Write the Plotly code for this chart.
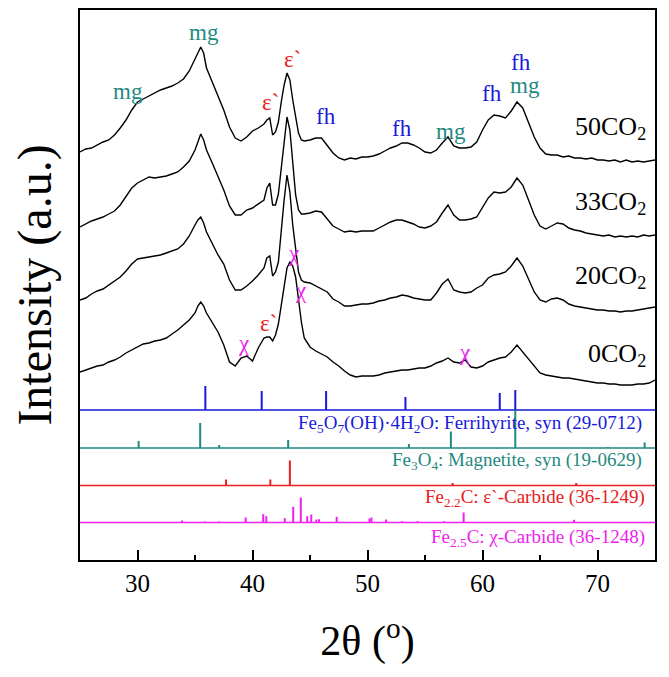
import plotly.graph_objects as go

# ---------------- data ----------------
two_theta = [25, 25.5, 26, 26.5, 27, 27.5, 28, 28.5, 29, 29.5, 30, 30.5, 31, 31.5, 32, 32.5, 33, 33.5, 34, 34.5, 35,
             35.25, 35.5, 35.75, 36,
             36.5, 37, 37.5, 38, 38.5, 39, 39.5, 40, 40.5, 41,
             41.25, 41.5, 41.75, 42, 42.25, 42.5, 42.75, 43, 43.25, 43.5, 43.75, 44, 44.25,
             44.5, 45, 45.5, 46, 46.5, 47, 47.5, 48, 48.5, 49, 49.5,
             50, 50.5, 51, 51.5, 52, 52.5, 53, 53.5, 54, 54.5,
             55, 55.5, 56, 56.5, 57, 57.5, 58, 58.5, 59, 59.5,
             60, 60.5, 61, 61.5, 62, 62.5, 63, 63.5, 64, 64.5,
             65, 65.5, 66, 66.5, 67, 67.5, 68, 68.5, 69, 69.5,
             70, 70.5, 71, 71.5, 72, 72.5, 73, 73.5, 74, 74.5, 75]

int_50co2 = [408, 411, 412, 415, 418, 420, 425, 432, 440, 450, 458, 461, 464, 467, 470, 472, 474, 477, 481, 489, 500,
             507, 513, 507, 492,
             478, 465, 450, 433, 422, 419, 423, 429, 432, 436,
             440, 442, 425, 428, 438, 458, 475, 487, 480, 460, 442, 427, 420,
             419, 420, 422, 422, 414, 407, 402, 400, 402, 401, 403,
             403, 404, 406, 409, 412, 414, 417, 417, 415, 412,
             408, 407, 410, 417, 423, 414, 412, 412, 413, 418,
             430, 440, 445, 444, 442, 449, 458, 452, 438, 423,
             412, 406, 405, 405, 403, 404, 402, 402, 401, 402,
             400, 400, 399, 400, 398, 400, 398, 399, 398, 399, 400]

int_33co2 = [333, 336, 339, 341, 343, 346, 349, 355, 364, 372, 377, 380, 383, 382, 383, 384, 386, 388, 393, 399, 410,
             419, 426, 420, 410,
             397, 383, 370, 354, 345, 345, 350, 352, 356, 360,
             372, 377, 355, 355, 366, 390, 420, 443, 430, 395, 365, 350, 346,
             346, 347, 349, 348, 341, 334, 331, 328, 329, 328, 329,
             329, 329, 332, 335, 338, 340, 340, 338, 336, 333,
             332, 334, 338, 347, 355, 345, 340, 340, 341, 343,
             353, 362, 368, 367, 368, 373, 382, 375, 360, 345,
             334, 331, 334, 337, 336, 332, 330, 329, 327, 326,
             325, 324, 325, 323, 324, 323, 324, 323, 325, 324, 325]

int_20co2 = [260, 262, 266, 269, 271, 275, 279, 283, 289, 296, 301, 302, 303, 304, 305, 307, 309, 311, 316, 324, 335,
             340, 343, 337, 328,
             317, 305, 296, 280, 270, 270, 274, 279, 285, 292,
             302, 304, 284, 288, 298, 330, 360, 385, 368, 335, 308, 288, 280,
             278, 277, 274, 271, 268, 261, 258, 254, 254, 255, 256,
             256, 257, 259, 260, 262, 263, 265, 264, 262, 261,
             260, 260, 267, 276, 281, 270, 268, 267, 268, 272,
             275, 282, 285, 286, 288, 294, 302, 294, 281, 268,
             260, 258, 261, 262, 260, 256, 254, 253, 252, 251,
             250, 250, 249, 249, 248, 249, 249, 250, 251, 252, 253]

int_0co2 = [188, 190, 192, 194, 195, 198, 200, 203, 207, 210, 213, 216, 217, 219, 220, 222, 226, 230, 235, 240, 247,
            254, 258, 254, 247,
            238, 228, 215, 198, 194, 202, 204, 199, 212, 222,
            223, 223, 219, 225, 236, 255, 277, 292, 298, 294, 283, 260, 238,
            222, 213, 209, 206, 203, 198, 194, 189, 185, 183, 184,
            184, 184, 185, 187, 188, 189, 190, 190, 191, 192,
            192, 194, 197, 199, 202, 198, 197, 200, 193, 192,
            194, 198, 200, 202, 203, 208, 215, 208, 200, 193,
            187, 185, 184, 183, 182, 182, 181, 180, 179, 178,
            177, 177, 176, 176, 175, 175, 175, 176, 176, 177, 180]

samples = ["50CO<sub>2</sub>", "33CO<sub>2</sub>", "20CO<sub>2</sub>", "0CO<sub>2</sub>"]

# reference stick patterns (2theta, relative intensity)
fh_pos = [35.9, 40.8, 46.4, 53.3, 61.5, 62.85]
fh_int = [24, 19, 19, 13, 17, 20]
mg_pos = [30.1, 35.45, 37.1, 43.1, 53.6, 57.25, 62.85, 70.9, 74.1]
mg_int = [7, 25, 3, 8, 4, 16.5, 38, 1, 5.5]
eps_pos = [37.7, 41.55, 43.25, 57.4, 68.15]
eps_int = [6, 6, 25, 2.5, 2.5]
chi_pos = [33.87, 35.84, 37.1, 39.41, 40.93, 41.2, 42.81, 43.54, 44.2, 44.76, 45.11, 45.55, 45.78,
           47.32, 50.17, 50.34, 51.62, 52.99, 54.35, 56.67, 58.36, 67.95]
chi_int = [2, 1, 1, 5, 8.3, 6.3, 4.3, 15.7, 25, 6.3, 8, 3, 3.3,
           5.7, 4, 5, 3, 1.3, 1.3, 1.3, 10, 2.7]

ref_names = ["Fe<sub>5</sub>O<sub>7</sub>(OH)·4H<sub>2</sub>O: Ferrihyrite, syn (29-0712)",
             "Fe<sub>3</sub>O<sub>4</sub>: Magnetite, syn (19-0629)",
             "Fe<sub>2.2</sub>C: ε`-Carbide (36-1249)",
             "Fe<sub>2.5</sub>C: χ-Carbide (36-1248)"]

# peak labels: (text, 2theta, intensity, phase)
peak_text = ["mg", "mg", "ε`", "ε`", "fh", "fh", "mg", "fh", "fh", "mg", "χ", "χ", "ε`", "χ", "χ"]
peak_x = [29.2, 35.8, 41.6, 43.45, 46.36, 53.04, 57.3, 60.8, 63.33, 63.7, 43.6, 44.24, 41.4, 39.3, 58.5]
peak_y = [469, 528, 458, 501, 444, 432, 429, 467, 498, 475, 307, 270, 237, 217, 208]
peak_phase = ["mg", "mg", "eps", "eps", "fh", "fh", "mg", "fh", "fh", "mg", "chi", "chi", "eps", "chi", "chi"]

# ---------------- styling ----------------
FONT = "Liberation Serif, Times New Roman, DejaVu Serif, serif"
COL = {"fh": "#1a1ad8", "mg": "#1f8a80", "eps": "#e82020", "chi": "#ee22ee"}
BASE = {"fh": 150, "mg": 112, "eps": 74.5, "chi": 37.5}
LABEL_Y = {"fh": 136.5, "mg": 99.5, "eps": 62.5, "chi": 22}
LABEL_X = {"fh": 74.0, "mg": 74.05, "eps": 74.3, "chi": 74.3}
sample_label_y = [432, 357, 283, 205]

fig = go.Figure()

for vals in [int_50co2, int_33co2, int_20co2, int_0co2]:
    fig.add_trace(go.Scatter(x=two_theta, y=vals, mode="lines",
                             line=dict(color="black", width=1.4), showlegend=False))

for key, pos, inten in [("fh", fh_pos, fh_int), ("mg", mg_pos, mg_int),
                        ("eps", eps_pos, eps_int), ("chi", chi_pos, chi_int)]:
    b = BASE[key]
    fig.add_trace(go.Scatter(x=[25, 75], y=[b, b], mode="lines",
                             line=dict(color=COL[key], width=1.5), showlegend=False))
    xs, ys = [], []
    for p, h in zip(pos, inten):
        xs += [p, p, None]
        ys += [b, b + h, None]
    fig.add_trace(go.Scatter(x=xs, y=ys, mode="lines",
                             line=dict(color=COL[key], width=2), showlegend=False))

for key, name in zip(["fh", "mg", "eps", "chi"], ref_names):
    fig.add_annotation(x=LABEL_X[key], y=LABEL_Y[key], text=name, showarrow=False,
                       xanchor="right", yanchor="middle",
                       font=dict(family=FONT, size=19, color=COL[key]))

for t, x, y, ph in zip(peak_text, peak_x, peak_y, peak_phase):
    fig.add_annotation(x=x, y=y, text=t, showarrow=False, xanchor="center", yanchor="middle",
                       font=dict(family=FONT, size=23, color=COL[ph]))

for s, y in zip(samples, sample_label_y):
    fig.add_annotation(x=74.4, y=y, text=s, showarrow=False, xanchor="right", yanchor="middle",
                       font=dict(family=FONT, size=26, color="black"))

# the page body adds an 8 px offset, so the figure is 8 px smaller and margins compensate
fig.update_layout(
    width=661, height=669,
    margin=dict(l=72, r=14, t=2, b=117),
    paper_bgcolor="white", plot_bgcolor="white",
    font=dict(family=FONT, color="black"),
)
fig.update_xaxes(range=[25, 75], tickvals=[30, 40, 50, 60, 70], ticks="inside", ticklen=10, tickwidth=2,
                 tickcolor="black", minor=dict(dtick=5, ticks="inside", ticklen=5, tickwidth=2, tickcolor="black"),
                 showline=True, mirror=True, linewidth=2, linecolor="black", showgrid=False, zeroline=False,
                 automargin=False,
                 tickfont=dict(family=FONT, size=25, color="black"),
                 title=dict(text="2θ (<sup>o</sup>)", font=dict(family=FONT, size=42, color="black"), standoff=30))
fig.update_yaxes(range=[0, 550], showticklabels=False, ticks="", showline=True, mirror=True, linewidth=2,
                 linecolor="black", showgrid=False, zeroline=False, automargin=False,
                 title=dict(text="Intensity (a.u.)", font=dict(family=FONT, size=48, color="black"), standoff=18))

fig.write_html("out.html")
